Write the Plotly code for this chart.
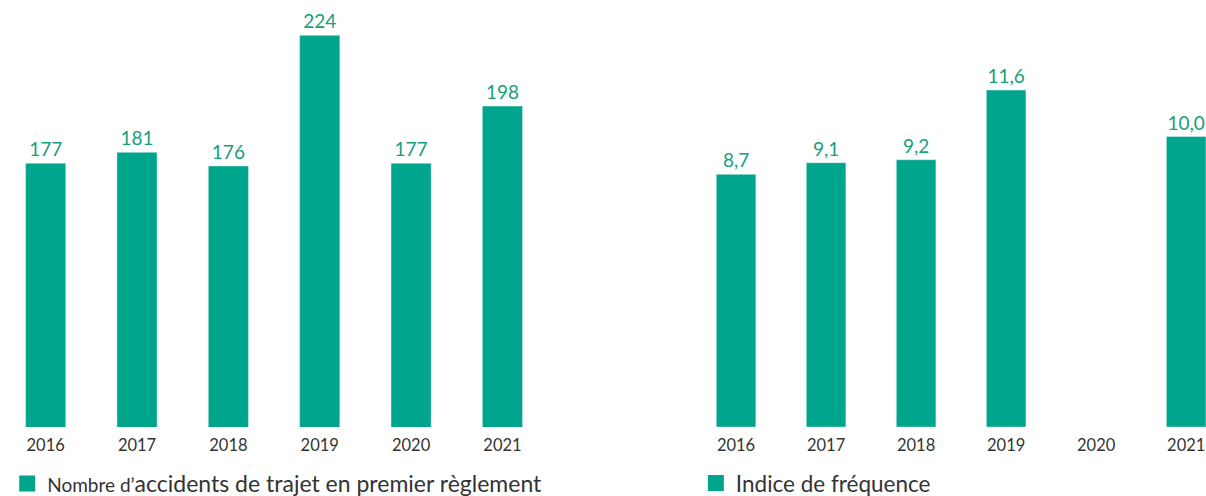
import plotly.graph_objects as go

years = ["2016", "2017", "2018", "2019", "2020", "2021"]
accidents = [177, 181, 176, 224, 177, 198]
frequence = [8.7, 9.1, 9.2, 11.6, None, 10.0]

name_left = '<span style="font-size:19px">Nombre d’</span>accidents de trajet en premier règlement'
name_right = "Indice de fréquence"

BAR = "#00a68b"
LBL = "#16a07c"
TXT = "#333333"
FONT = "Lato, 'Noto Sans', sans-serif"

fig = go.Figure()
fig.add_trace(go.Bar(
    x=years, y=accidents, marker_color=BAR, width=0.44,
    texttemplate="%{y}", textposition="outside",
    textfont=dict(color=LBL, size=19), cliponaxis=False,
    xaxis="x", yaxis="y", showlegend=False,
))
fig.add_trace(go.Bar(
    x=years, y=frequence, marker_color=BAR, width=0.44,
    texttemplate="%{y:.1f}", textposition="outside",
    textfont=dict(color=LBL, size=19), cliponaxis=False,
    xaxis="x2", yaxis="y2", showlegend=False,
))
# legend entries
fig.add_trace(go.Scatter(x=[None], y=[None], mode="markers", name=name_left,
                         marker=dict(symbol="square", size=16, color=BAR),
                         xaxis="x", yaxis="y", legend="legend"))
fig.add_trace(go.Scatter(x=[None], y=[None], mode="markers", name=name_right,
                         marker=dict(symbol="square", size=16, color=BAR),
                         xaxis="x2", yaxis="y2", legend="legend2"))

axis_x = dict(type="category", showgrid=False, zeroline=False, showline=False,
              ticks="", tickfont=dict(size=16.5, color=TXT), ticklabelstandoff=6)
axis_y = dict(showgrid=False, zeroline=False, showline=False, showticklabels=False)

fig.update_layout(
    width=1206, height=496,
    margin=dict(l=0, r=0, t=0, b=0, autoexpand=False),
    paper_bgcolor="white", plot_bgcolor="white",
    font=dict(family=FONT, color=TXT),
    separators=", ",
    xaxis=dict(axis_x, domain=[0.0, 0.4545], range=[-0.5, 5.5]),
    yaxis=dict(axis_y, domain=[0.139, 1.0], range=[80, 237]),
    xaxis2=dict(axis_x, domain=[0.573, 1.0], range=[-0.5, 5.22]),
    yaxis2=dict(axis_y, domain=[0.139, 1.0], range=[0, 14.7]),
    legend=dict(x=0.006, y=-0.018, xanchor="left", yanchor="bottom",
                font=dict(size=23, color=TXT), bgcolor="rgba(0,0,0,0)",
                itemwidth=30),
    legend2=dict(x=0.577, y=-0.018, xanchor="left", yanchor="bottom",
                 font=dict(size=22.5, color=TXT), bgcolor="rgba(0,0,0,0)",
                 itemwidth=30),
)

fig.write_html("out.html", config={"displayModeBar": False},
               post_script="document.body.style.margin='0';")
